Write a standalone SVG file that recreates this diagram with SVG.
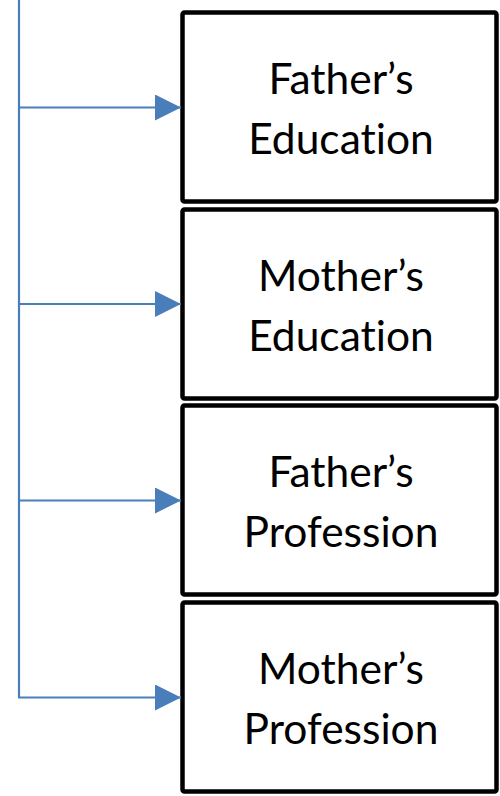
<svg xmlns="http://www.w3.org/2000/svg" width="500" height="796" viewBox="0 0 500 796">
<style>
.box{fill:#fff;stroke:#000;stroke-width:4.5}
.t{font-family:Lato,"Open Sans","Liberation Sans",sans-serif;font-size:42.5px;fill:#000;text-anchor:middle;font-variant-ligatures:none}
.c{stroke:#4a7ebb;stroke-width:2.2;fill:none}
</style>
<defs>
<marker id="ah" markerUnits="userSpaceOnUse" markerWidth="27" markerHeight="26" refX="26" refY="13" orient="auto">
<path d="M0,0 L26,13 L0,26 Z" fill="#4a7ebb"/>
</marker>
</defs>
<g id="n1"><rect class="box" x="182.5" y="12.5" width="314" height="189" rx="2"/><text class="t" x="341" y="94">Father’s</text><text class="t" x="341" y="154">Education</text></g>
<g id="n2"><rect class="box" x="182.5" y="209.5" width="314" height="189" rx="2"/><text class="t" x="341" y="291">Mother’s</text><text class="t" x="341" y="351">Education</text></g>
<g id="n3"><rect class="box" x="182.5" y="405.5" width="314" height="189" rx="2"/><text class="t" x="341" y="487">Father’s</text><text class="t" x="341" y="547">Profession</text></g>
<g id="n4"><rect class="box" x="182.5" y="602.5" width="314" height="189" rx="2"/><text class="t" x="341" y="684">Mother’s</text><text class="t" x="341" y="744">Profession</text></g>
<g id="connectors">
<path class="c" d="M19,0 V697"/>
<path class="c" d="M19,107.5 H181" marker-end="url(#ah)"/>
<path class="c" d="M19,304 H181" marker-end="url(#ah)"/>
<path class="c" d="M19,500.5 H181" marker-end="url(#ah)"/>
<path class="c" d="M18,697.5 H181" marker-end="url(#ah)"/>
</g>
</svg>
